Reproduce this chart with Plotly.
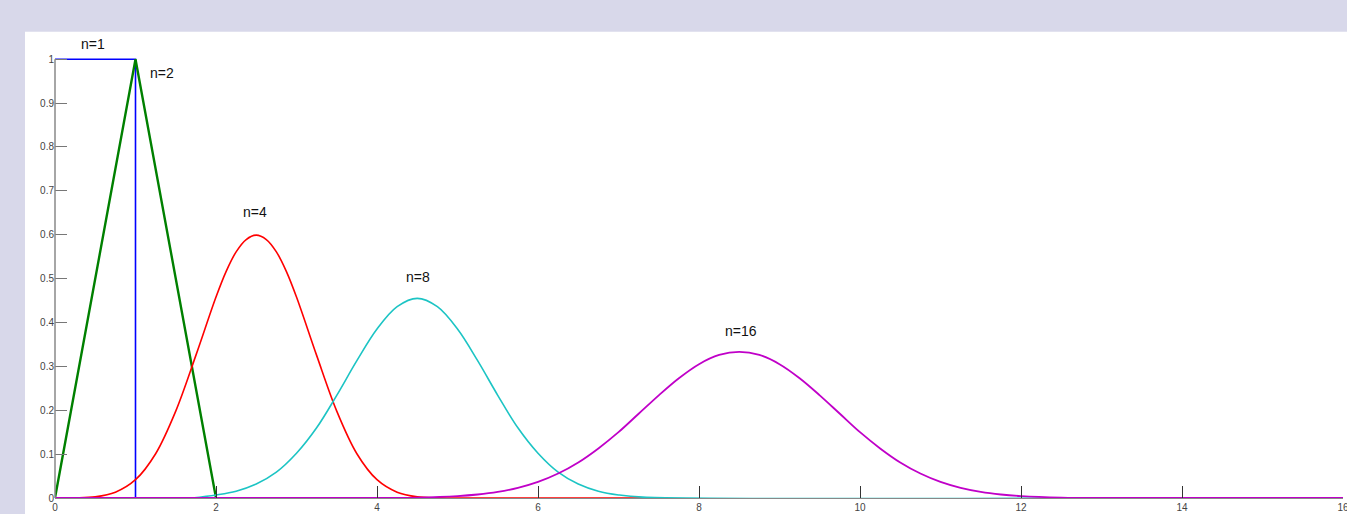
import plotly.graph_objects as go

# ---- data ----
n1_x = [0, 1, 1, 1.6]
n1_y = [1, 1, 0, 0]

n2_x = [0, 1, 2]
n2_y = [0, 1, 0]

n4_x = [0, 0.25, 0.5, 0.75, 1.0, 1.25, 1.5, 1.75, 2.0, 2.125, 2.25, 2.375, 2.5, 2.625,
        2.75, 2.875, 3.0, 3.25, 3.5, 3.75, 4.0, 4.25, 4.5, 4.75, 5.0, 7.4]
n4_y = [0, 0.0002, 0.0026, 0.0132, 0.0417, 0.1009, 0.198, 0.325, 0.458, 0.516, 0.561,
        0.589, 0.599, 0.589, 0.561, 0.516, 0.458, 0.325, 0.198, 0.1009, 0.0417, 0.0132,
        0.0026, 0.0002, 0, 0]

n8_x = [1.7, 2.0, 2.25, 2.5, 2.75, 3.0, 3.25, 3.5, 3.75, 4.0, 4.25, 4.5, 4.75, 5.0,
        5.25, 5.5, 5.75, 6.0, 6.25, 6.5, 6.75, 7.0, 7.3, 12.5]
n8_y = [0.0, 0.007, 0.0156, 0.032, 0.059, 0.102, 0.160, 0.234, 0.313, 0.385, 0.436, 0.455,
        0.436, 0.385, 0.313, 0.234, 0.160, 0.102, 0.059, 0.032, 0.0156, 0.007, 0.002, 0]

n16_x = [0, 4.0, 4.5, 5.0, 5.25, 5.5, 5.75, 6.0, 6.25, 6.5, 6.75, 7.0, 7.25, 7.5, 7.75,
         8.0, 8.25, 8.5, 8.75, 9.0, 9.25, 9.5, 9.75, 10.0, 10.25, 10.5, 10.75, 11.0,
         11.25, 11.5, 11.75, 12.0, 12.5, 13.0, 16]
n16_y = [0, 0, 0.001, 0.0044, 0.008, 0.0139, 0.0231, 0.0367, 0.0558, 0.081, 0.113, 0.150,
         0.192, 0.234, 0.273, 0.305, 0.326, 0.333, 0.326, 0.305, 0.273, 0.234, 0.192,
         0.150, 0.113, 0.081, 0.0558, 0.0367, 0.0231, 0.0139, 0.008, 0.0044, 0.001, 0, 0]

labels = ["n=1", "n=2", "n=4", "n=8", "n=16"]
label_x = [0.47, 1.33, 2.48, 4.51, 8.52]
label_y = [1.057, 0.992, 0.651, 0.503, 0.380]

x_ticks = [0, 2, 4, 6, 8, 10, 12, 14, 16]
y_ticks = [0, 0.1, 0.2, 0.3, 0.4, 0.5, 0.6, 0.7, 0.8, 0.9, 1]
y_tick_text = ["0", "0.1", "0.2", "0.3", "0.4", "0.5", "0.6", "0.7", "0.8", "0.9", "1"]

Y_TOP = 1.005

fig = go.Figure()
fig.add_trace(go.Scatter(x=n1_x, y=n1_y, mode="lines", line=dict(color="#0000ff", width=1.6)))
fig.add_trace(go.Scatter(x=n2_x, y=n2_y, mode="lines", line=dict(color="#008000", width=2.4)))
fig.add_trace(go.Scatter(x=n4_x, y=n4_y, mode="lines",
                         line=dict(color="#ff0000", width=1.6, shape="spline", smoothing=1.0)))
fig.add_trace(go.Scatter(x=n8_x, y=n8_y, mode="lines",
                         line=dict(color="#1cc4c4", width=1.6, shape="spline", smoothing=1.0)))
fig.add_trace(go.Scatter(x=n16_x, y=n16_y, mode="lines",
                         line=dict(color="#c000c8", width=1.8, shape="spline", smoothing=1.0)))

for t, lx, ly in zip(labels, label_x, label_y):
    fig.add_annotation(x=lx, y=ly / Y_TOP, xref="x", yref="paper", text=t, showarrow=False,
                       font=dict(family="Liberation Sans, Arial", size=14, color="#111111"))

fig.add_shape(type="rect", xref="paper", yref="paper",
              x0=-0.0233, x1=1.01, y0=-0.05, y1=1.057,
              fillcolor="white", line=dict(width=0), layer="below")

fig.update_layout(
    width=1347, height=514,
    margin=dict(l=55, r=4, t=57, b=16, autoexpand=False),
    paper_bgcolor="#d8d8ea",
    plot_bgcolor="white",
    showlegend=False,
    font=dict(family="Liberation Sans, Arial", size=10, color="#444444"),
)
fig.update_xaxes(range=[0, 16], tickvals=x_ticks, ticktext=[str(v) for v in x_ticks],
                 ticks="inside", ticklen=12, tickcolor="#333333", showgrid=False,
                 zeroline=False, showline=True, linecolor="#888888", linewidth=1,
                 automargin=False, ticklabeloverflow="allow",
                 tickfont=dict(size=10, color="#444444"))
fig.update_yaxes(range=[0, Y_TOP], tickvals=y_ticks, ticktext=y_tick_text,
                 ticks="inside", ticklen=12, tickcolor="#777777", showgrid=False,
                 zeroline=False, showline=False, automargin=False,
                 tickfont=dict(size=10, color="#444444"))
# y axis line from 0 to 1 only
fig.add_shape(type="line", xref="paper", yref="y", x0=0, x1=0, y0=0, y1=1,
              line=dict(color="#888888", width=1.5))

fig.write_html("out.html", config={"displayModeBar": False},
               post_script="document.body.style.margin='0';")
